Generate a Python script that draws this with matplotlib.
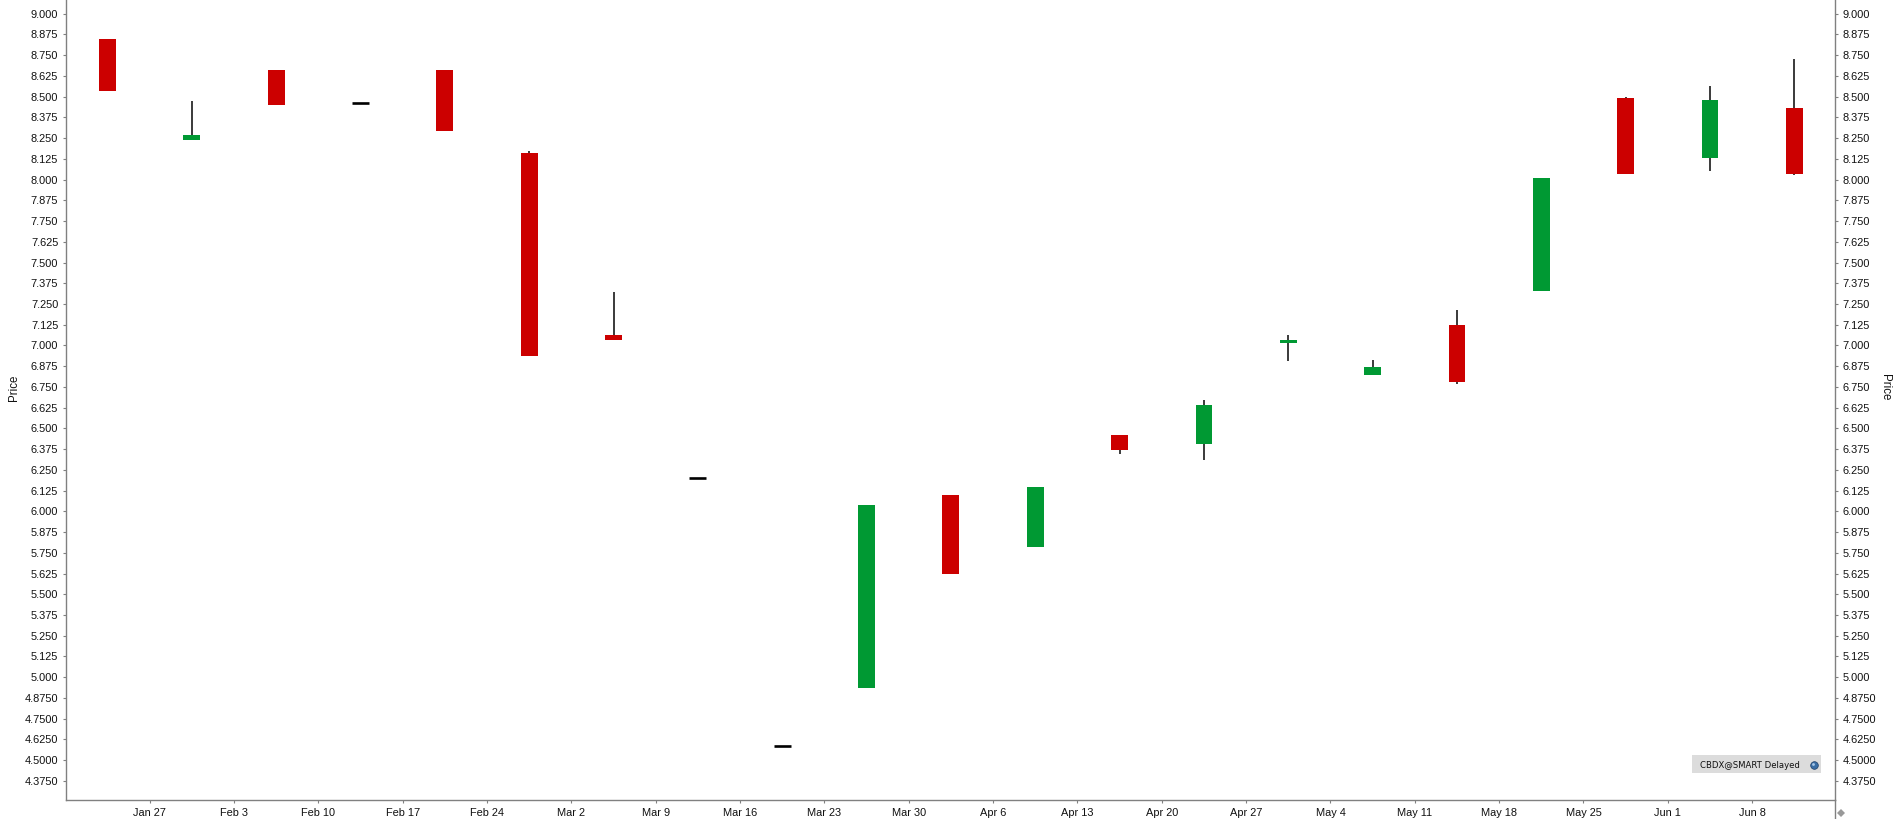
import matplotlib
matplotlib.use("Agg")
import matplotlib.pyplot as plt
from matplotlib.lines import Line2D
from matplotlib.patches import Rectangle

# ======================================================
# DATA
# ======================================================

opens = [8.847, 8.238, 8.660, 8.463, 8.660, 8.160, 7.062, 6.201, 4.588, 4.938, 6.096,
         5.783, 6.458, 6.404, 7.013, 6.820, 7.122, 7.327, 8.491, 8.131, 8.431]
highs = [8.847, 8.473, 8.660, 8.463, 8.660, 8.172, 7.321, 6.201, 4.588, 6.036, 6.096,
         6.145, 6.458, 6.669, 7.061, 6.910, 7.212, 8.009, 8.497, 8.564, 8.727]
lows = [8.535, 8.238, 8.449, 8.463, 8.292, 6.935, 7.031, 6.201, 4.588, 4.938, 5.620,
        5.783, 6.344, 6.308, 6.904, 6.820, 6.766, 7.327, 8.033, 8.051, 8.027]
closes = [8.535, 8.268, 8.449, 8.463, 8.292, 6.935, 7.031, 6.201, 4.588, 6.036, 5.620,
          6.145, 6.368, 6.639, 7.031, 6.868, 6.778, 8.009, 8.033, 8.479, 8.033]

date_labels = ["Jan 27", "Feb 3", "Feb 10", "Feb 17", "Feb 24", "Mar 2", "Mar 9", "Mar 16",
               "Mar 23", "Mar 30", "Apr 6", "Apr 13", "Apr 20", "Apr 27", "May 4", "May 11",
               "May 18", "May 25", "Jun 1", "Jun 8"]

price_ticks = [9.0, 8.875, 8.75, 8.625, 8.5, 8.375, 8.25, 8.125, 8.0, 7.875, 7.75, 7.625, 7.5,
               7.375, 7.25, 7.125, 7.0, 6.875, 6.75, 6.625, 6.5, 6.375, 6.25, 6.125, 6.0, 5.875,
               5.75, 5.625, 5.5, 5.375, 5.25, 5.125, 5.0, 4.875, 4.75, 4.625, 4.5, 4.375]
price_labels = [f"{p:.3f}" if p >= 5 else f"{p:.4f}" for p in price_ticks]

# ======================================================
# STYLE
# ======================================================

W, H = 1898, 819
RED = "#cc0000"
GREEN = "#009933"
AXIS = "#808080"
FS = 7.9

plt.rcParams["font.family"] = ["Liberation Sans", "DejaVu Sans"]


def fx(px):
    return px / W


def fy(py):
    return 1 - py / H


fig = plt.figure(figsize=(W / 100, H / 100), dpi=100, facecolor="white")
ax = fig.add_axes([fx(65.5), fy(800.3), fx(1835 - 65.5), fy(0) - fy(800.3)])

# ---------- Candles ----------
xs = list(range(len(opens)))
ax.vlines(xs, lows, highs, color="black", linewidth=1.08, zorder=2)
for x, o, c in zip(xs, opens, closes):
    if o == c:
        ax.hlines(o, x - 0.1, x + 0.1, color="black", linewidth=1.9, zorder=3)
    else:
        ax.bar(x, abs(o - c), bottom=min(o, c), width=0.2, linewidth=0,
               color=GREEN if c > o else RED, zorder=3)

# ---------- Axes ----------
ax.set_xlim(-0.498, 20.482)
ax.set_ylim(4.258, 9.083)
ax.set_xticks([x + 0.5 for x in range(len(date_labels))])
ax.set_xticklabels(date_labels, fontsize=FS, color="#111111")
ax.set_yticks(price_ticks)
ax.set_yticklabels(price_labels, fontsize=FS, color="#111111")
ax.tick_params(axis="both", length=2.2, width=0.8, color=AXIS, pad=3)

ax2 = ax.twinx()
ax2.set_ylim(ax.get_ylim())
ax2.set_yticks(price_ticks)
ax2.set_yticklabels(price_labels, fontsize=FS, color="#111111")
ax2.tick_params(axis="y", length=2.2, width=0.8, color=AXIS, pad=3)

# twinx draws its own copy of every spine, keep only one of each
for s in ("top", "right"):
    ax.spines[s].set_visible(False)
for s in ("top", "left", "bottom"):
    ax2.spines[s].set_visible(False)
for spine in (ax.spines["left"], ax.spines["bottom"], ax2.spines["right"]):
    spine.set_color(AXIS)
    spine.set_linewidth(1.0)

fig.text(fx(14.5), fy(387.5), "Price", rotation=90, fontsize=FS + 0.4, color="#111111",
         ha="center", va="center")
fig.text(fx(1885), fy(387.5), "Price", rotation=-90, fontsize=FS + 0.4, color="#111111",
         ha="center", va="center")

# ---------- Data source badge ----------
fig.add_artist(Rectangle((fx(1692), fy(773)), fx(129), fy(755) - fy(773),
                         transform=fig.transFigure, facecolor="#dcdcdc", edgecolor="none"))
fig.text(fx(1700.5), fy(765.5), "CBDX@SMART Delayed", family="DejaVu Sans", fontsize=6.1,
         color="#111111", ha="left", va="center")
fig.add_artist(Line2D([fx(1813.7)], [fy(764.7)], marker="o", markersize=5.5, color="#3a6ea5",
                      markeredgecolor="#1f3f66", markeredgewidth=0.5, transform=fig.transFigure))
fig.add_artist(Line2D([fx(1812.7)], [fy(763.5)], marker="o", markersize=2, color="#a9c8e8",
                      markeredgewidth=0, transform=fig.transFigure))

# ---------- Scroll corner ----------
fig.add_artist(Line2D([fx(1835), fx(1835)], [fy(800), fy(819)], color=AXIS, linewidth=1.0,
                      transform=fig.transFigure))
fig.add_artist(Line2D([fx(1841)], [fy(812.7)], marker="D", markersize=3.6, color="#999999",
                      markeredgewidth=0, transform=fig.transFigure))

fig.savefig("out.png", dpi=100)
